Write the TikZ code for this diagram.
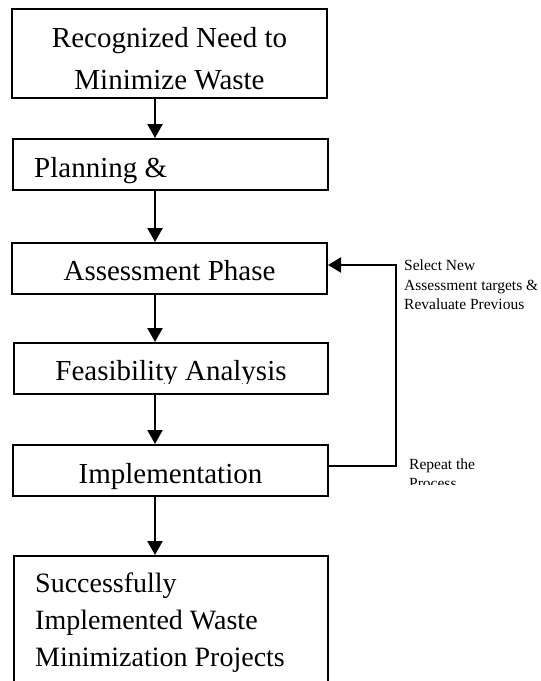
\documentclass[tikz,border=0pt]{standalone}
\usepackage{fontspec}
\setmainfont{Liberation Serif}
\usetikzlibrary{arrows.meta}
\begin{document}
\begin{tikzpicture}[x=1pt,y=-1pt,
  box/.style={draw, line width=2pt, inner sep=0pt},
  big/.style={font=\fontsize{29}{35}\selectfont, inner sep=0pt},
  bigb/.style={font=\fontsize{28}{34}\selectfont, inner sep=0pt},
  small/.style={font=\fontsize{15.5}{19}\selectfont, inner sep=0pt},
  arr/.style={line width=2.3pt, -{Triangle[length=14pt,width=15pt]}},
  loopline/.style={line width=2pt, -{Triangle[length=13pt,width=15pt]}}]
\clip (0,0) rectangle (541,681);
\fill[white] (0,0) rectangle (541,681);
% boxes
\node[box, minimum width=315pt, minimum height=89pt] (b1) at (169.5,53.5) {};
\node[box, minimum width=315pt, minimum height=51pt] (b2) at (170.5,164.5) {};
\node[box, minimum width=315pt, minimum height=51pt] (b3) at (169.5,268.5) {};
\node[box, minimum width=314pt, minimum height=51pt] (b4) at (171,368.5) {};
\node[box, minimum width=315pt, minimum height=51pt] (b5) at (170.5,470.5) {};
\node[box, minimum width=314pt, minimum height=130pt] (b6) at (171,621) {};
% texts
\node[big, anchor=base] (t1a) at (169.5,47) {Recognized Need to};
\node[big, anchor=base] (t1b) at (169.5,89) {Minimize Waste};
\begin{scope}
  \clip (13,139) rectangle (328,183);
  \node[big, anchor=base west] (t2) at (34,177) {Planning \&};
\end{scope}
\node[big, anchor=base] (t3) at (169.5,280) {Assessment Phase};
\begin{scope}
  \clip (14,343) rectangle (328,383);
  \node[big, anchor=base] (t4) at (171,380) {Feasibility Analysis};
\end{scope}
\node[big, anchor=base] (t5) at (170.5,483) {Implementation};
\node[bigb, anchor=base west] (t6a) at (35,592) {Successfully};
\node[bigb, anchor=base west] (t6b) at (35,629) {Implemented Waste};
\node[bigb, anchor=base west] (t6c) at (35,666) {Minimization Projects};
% side labels
\node[small, anchor=base west] (s1) at (404,270) {Select New};
\node[small, anchor=base west] (s2) at (404,290) {Assessment targets \&};
\node[small, anchor=base west] (s3) at (404,309) {Revaluate Previous};
\begin{scope}
  \clip (400,440) rectangle (541,484.5);
  \node[small, anchor=base west] (r1) at (409,469) {Repeat the};
  \node[small, anchor=base west] (r2) at (409,488) {Process};
\end{scope}
% arrows
\coordinate (ax) at (155,0);
\draw[arr] (b1.south -| ax) -- (b2.north -| ax);
\draw[arr] (b2.south -| ax) -- (b3.north -| ax);
\draw[arr] (b3.south -| ax) -- (b4.north -| ax);
\draw[arr] (b4.south -| ax) -- (b5.north -| ax);
\draw[arr] (b5.south -| ax) -- (b6.north -| ax);
% feedback loop
\coordinate (lb) at (396,466);
\coordinate (lt) at (396,265);
\draw[loopline] (b5.east |- lb) -- (lb) -- (lt) -- (b3.east |- lt);
\end{tikzpicture}
\end{document}
